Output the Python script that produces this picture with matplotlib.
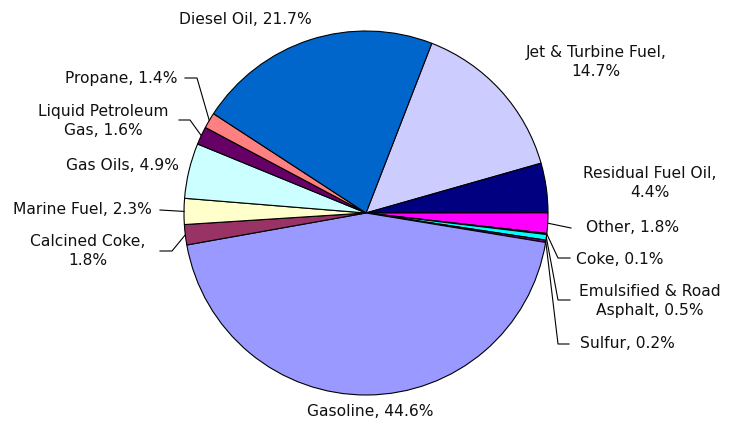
import numpy as np
import matplotlib.pyplot as plt

# product shares (clockwise from Jet & Turbine Fuel)
products = ['Jet & Turbine Fuel', 'Residual Fuel Oil', 'Other', 'Coke',
            'Emulsified & Road Asphalt', 'Sulfur', 'Gasoline', 'Calcined Coke',
            'Marine Fuel', 'Gas Oils', 'Liquid Petroleum Gas', 'Propane', 'Diesel Oil']
shares = [14.7, 4.4, 1.8, 0.1, 0.5, 0.2, 44.6, 1.8, 2.3, 4.9, 1.6, 1.4, 21.7]
colors = ['#CCCCFF', '#000080', '#FF00FF', '#FFFF00', '#00FFFF', '#800080', '#9999FF',
          '#993366', '#FFFFCC', '#CCFFFF', '#660066', '#FF8080', '#0066CC']

# how the label text is wrapped
label_text = ['Jet & Turbine Fuel,\n14.7%', 'Residual Fuel Oil,\n4.4%', 'Other, 1.8%',
              'Coke, 0.1%', 'Emulsified & Road\nAsphalt, 0.5%', 'Sulfur, 0.2%',
              'Gasoline, 44.6%', 'Calcined Coke,\n1.8%', 'Marine Fuel, 2.3%',
              'Gas Oils, 4.9%', 'Liquid Petroleum\nGas, 1.6%', 'Propane, 1.4%',
              'Diesel Oil, 21.7%']

W, H = 740, 422
# label centres in pixels (from the top left) and leader bends
label_pos = [(596, 62), (650, 183), (633, 228), (620, 259), (650, 301), (627, 344),
             (370, 412), (88, 251), (82, 210), (122, 166), (103, 121), (121, 78),
             (245, 20)]
leaders = {
    2: [(571, 228)],
    3: [(558, 258), (570, 258)],
    4: [(558, 300), (570, 300)],
    5: [(558, 344), (569, 344)],
    7: [(172, 251), (160, 251)],
    8: [(160, 210)],
    10: [(190, 120), (179, 120)],
    11: [(197, 78), (185, 78)],
}

plt.rcParams['font.family'] = ['DejaVu Sans']

fig = plt.figure(figsize=(W / 100, H / 100), dpi=100)
ax = fig.add_axes([0, 0, 1, 1])

cx, cy, r = 366, H - 213, 182
wedges, _ = ax.pie(shares, colors=colors, startangle=68.8, counterclock=False,
                   center=(cx, cy), radius=r, frame=True,
                   wedgeprops=dict(edgecolor='black', linewidth=0.8))
ax.set_xlim(0, W)
ax.set_ylim(0, H)
ax.set_aspect('equal')
ax.axis('off')

for i, w in enumerate(wedges):
    x, y = label_pos[i]
    ax.text(x, H - y, label_text[i], ha='center', va='center', fontsize=11.2,
            color='#111111', linespacing=1.4)
    if i in leaders:
        mid = np.deg2rad((w.theta1 + w.theta2) / 2)
        pts = [(cx + r * np.cos(mid), cy + r * np.sin(mid))]
        pts += [(px, H - py) for px, py in leaders[i]]
        xs, ys = zip(*pts)
        ax.plot(xs, ys, color='black', linewidth=0.8)

plt.savefig('out.png', dpi=100)
